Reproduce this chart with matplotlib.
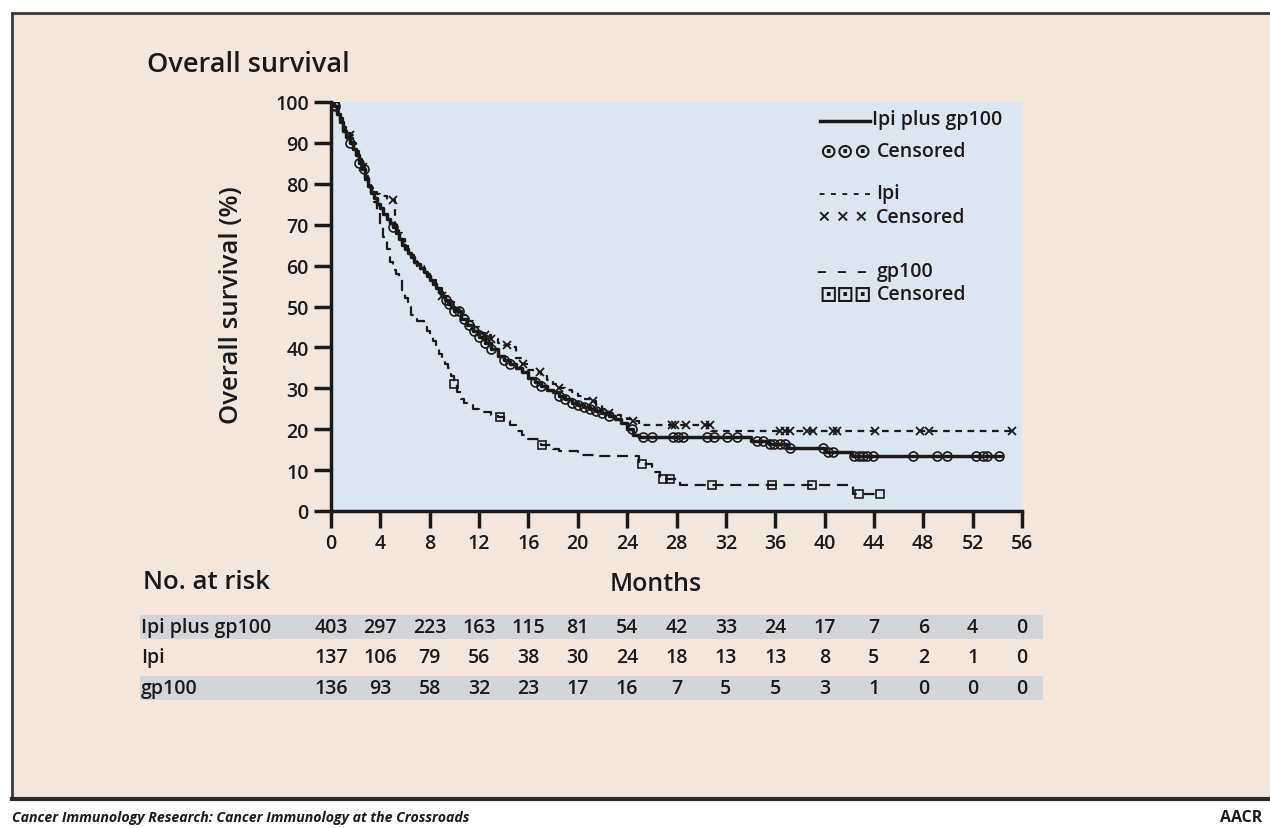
import numpy as np
import matplotlib
matplotlib.use('Agg')
import matplotlib.pyplot as plt
from matplotlib.patches import Rectangle
from matplotlib.transforms import blended_transform_factory

plt.rcParams['font.family'] = ['Open Sans', 'DejaVu Sans']
plt.rcParams['font.weight'] = 'semibold'

# --- Kaplan-Meier step points (months, % alive) ---
t_combo = [0, 0.25, 0.5, 0.75, 1, 1.25, 1.5, 1.75, 2, 2.25, 2.5, 2.75, 3, 3.25, 3.5,
           3.75, 4, 4.25, 4.5, 4.75, 5, 5.25, 5.5, 5.75, 6, 6.25, 6.5, 6.75, 7, 7.25,
           7.5, 7.75, 8, 8.25, 8.5, 8.75, 9, 9.25, 9.5, 9.75, 10, 10.5, 11, 11.5, 12,
           12.5, 13, 13.5, 14, 14.5, 15, 15.5, 16, 16.5, 17, 17.5, 18, 18.5, 19, 19.5,
           20, 20.5, 21, 21.5, 22, 22.5, 23, 23.5, 24, 24.5, 25, 34, 35.5, 37, 40, 42.2,
           54.3]
s_combo = [100, 99, 97, 95, 93, 91.5, 90, 88.5, 87, 85, 83.5, 81.5, 79.5, 78, 76.5, 75,
           74, 72.5, 71.5, 70.5, 69.5, 68, 66.5, 65, 64, 63, 62, 61, 60.5, 59.5, 58.5,
           57.5, 56.5, 55.5, 54.5, 53.5, 52.5, 51.5, 50.5, 49.8, 49, 47, 45.5, 44, 42.5,
           41, 39.5, 38, 37, 36, 35, 34, 32.5, 31.5, 30.5, 29.5, 29, 28, 27.3, 26.5, 26,
           25.5, 25, 24.5, 24, 23.3, 22.5, 21.5, 20, 18.5, 18, 17, 16.3, 15.3, 14.5, 13.4,
           13.4]

t_ipi = [0, 0.25, 0.5, 0.75, 1, 1.25, 1.5, 1.75, 2, 2.25, 2.5, 2.75, 3, 3.25, 3.5,
         3.75, 4, 4.5, 5.2, 5.35, 5.5, 5.75, 6, 6.25, 6.5, 6.75, 7, 7.5, 8, 8.5, 9,
         9.5, 10, 10.5, 11, 11.5, 12, 12.5, 13, 13.5, 14, 14.5, 15, 15.5, 16, 16.5, 17,
         17.5, 18, 18.5, 19, 19.5, 20, 20.5, 21, 21.5, 22, 22.5, 23, 23.5, 24, 24.5, 25,
         30.8, 55.3]
s_ipi = [100, 99, 97.5, 96, 94, 93, 92, 90, 88, 86, 84, 82, 80, 79, 78, 77.5, 77, 76,
         70, 69, 68, 66.5, 65, 63.7, 62.5, 61.2, 60, 58, 56.5, 54.5, 52.5, 51, 49.5, 48,
         46.5, 45, 43.5, 43, 42, 41, 40.5, 40, 37.5, 36, 34.5, 34, 33, 32, 31, 30, 29.5,
         29, 28, 27.5, 27, 26, 25, 24, 23.5, 23, 22.5, 22, 21, 19.5, 19.5]

t_gp = [0, 0.25, 0.5, 0.75, 1, 1.25, 1.5, 1.75, 2, 2.25, 2.5, 2.75, 3, 3.25, 3.5, 3.75,
        4, 4.25, 4.5, 4.75, 5, 5.25, 5.5, 5.75, 6, 6.25, 6.5, 6.75, 7, 7.5, 7.75, 8,
        8.25, 8.5, 8.75, 9, 9.25, 9.5, 9.75, 10, 10.25, 10.5, 10.75, 11, 11.5, 12, 13,
        13.5, 14, 14.5, 15, 15.5, 16, 17, 18, 18.5, 20, 21.5, 25, 26, 26.7, 28.3, 42.3,
        44.6]
s_gp = [100, 99, 97, 95, 93, 91.5, 90, 88.5, 87, 85, 83.5, 81, 79, 77.5, 75.5, 73, 70,
        67, 64, 61, 59, 58, 57, 54, 52, 50, 48, 47, 46.5, 45, 44, 43, 41.5, 40, 38.5,
        37.5, 36, 35, 33, 31, 29, 27.5, 26.5, 26, 25, 24.2, 23.5, 23, 22, 21, 19.5,
        18.5, 17.5, 16.2, 15.2, 14.7, 13.8, 13.4, 11.5, 9.5, 7.8, 6.4, 4.2, 4.2]

# censored observations (months)
c_combo = [0.3, 1.5, 2.3, 2.7, 5.0, 9.3, 9.6, 10.0, 10.4, 10.8, 11.2, 11.6, 12.0, 12.5,
           13.0, 14.0, 14.5, 16.5, 17.0, 18.5, 19.0, 19.5, 20.0, 20.5, 21.0, 21.5, 22.0,
           22.5, 24.4, 25.3, 26.0, 27.7, 28.1, 28.5, 30.5, 31.0, 32.1, 32.9, 34.5, 35.0,
           35.6, 35.9, 36.4, 36.8, 37.2, 39.9, 40.3, 40.7, 42.4, 42.8, 43.1, 43.4, 43.9,
           47.2, 49.1, 49.9, 52.3, 52.8, 53.2, 54.1]
c_ipi = [1.5, 2.6, 5.0, 9.0, 12.5, 13.0, 14.3, 15.6, 16.9, 18.5, 21.2, 22.5, 24.5, 27.6,
         27.9, 28.8, 30.3, 30.7, 36.4, 36.8, 37.2, 38.6, 39.1, 40.7, 41.0, 44.1, 47.7,
         48.5, 55.2]
c_gp = [0.3, 10.0, 13.7, 17.1, 25.2, 26.9, 27.5, 30.9, 35.7, 39.0, 42.8, 44.5]

ticks = list(range(0, 57, 4))
risk_rows = ['Ipi plus gp100', 'Ipi', 'gp100']
risk_combo = [403, 297, 223, 163, 115, 81, 54, 42, 33, 24, 17, 7, 6, 4, 0]
risk_ipi = [137, 106, 79, 56, 38, 30, 24, 18, 13, 13, 8, 5, 2, 1, 0]
risk_gp = [136, 93, 58, 32, 23, 17, 16, 7, 5, 5, 3, 1, 0, 0, 0]


def step_at(t, s, when):
    t = np.asarray(t)
    s = np.asarray(s)
    i = np.searchsorted(t, when, side='right') - 1
    return s[i]


W, H = 1270, 829
fig = plt.figure(figsize=(W / 100, H / 100), dpi=100, facecolor='white')


def fx(px):
    return px / W


def fy(py):
    return 1 - py / H


# beige panel and frame
fig.patches.append(Rectangle((fx(12), fy(800)), 1 - fx(12), fy(14) - fy(800),
                             transform=fig.transFigure, facecolor='#f3e6dc',
                             edgecolor='none', zorder=-2))
fig.add_artist(plt.Line2D([fx(12), 1], [fy(14), fy(14)], color='#3a3a3a', lw=2))
fig.add_artist(plt.Line2D([fx(12), fx(12)], [fy(14), fy(800)], color='#3a3a3a', lw=2))
fig.add_artist(plt.Line2D([fx(12), 1], [fy(800), fy(800)], color='#2a2a2a', lw=3))

ax = fig.add_axes((fx(331), fy(512), fx(1022) - fx(331), fy(103) - fy(512)),
                  facecolor='#dce6f1')
ax.set_zorder(1)
ax.set_xlim(0, 56)
ax.set_ylim(0, 100)

ink = '#1a1a1a'
ax.plot(t_combo, s_combo, drawstyle='steps-post', color=ink, lw=2.5)
ax.plot(t_ipi, s_ipi, drawstyle='steps-post', color=ink, lw=1.6, ls=(0, (3, 2.5)))
ax.plot(t_gp, s_gp, drawstyle='steps-post', color=ink, lw=1.6, ls=(0, (5, 3)))

ax.plot(c_combo, step_at(t_combo, s_combo, c_combo), 'o', ms=6.5, mfc='none',
        mec=ink, mew=1.2)
ax.plot(c_ipi, step_at(t_ipi, s_ipi, c_ipi), 'x', ms=6, mec=ink, mew=1.3)
ax.plot(c_gp, step_at(t_gp, s_gp, c_gp), 's', ms=5.5, mfc='none', mec=ink, mew=1.2)

for sp in ['top', 'right']:
    ax.spines[sp].set_visible(False)
for sp in ['left', 'bottom']:
    ax.spines[sp].set_linewidth(2.5)
    ax.spines[sp].set_color(ink)
ax.set_xticks(ticks)
ax.set_yticks(range(0, 101, 10))
ax.tick_params(axis='both', direction='out', length=12, width=2.5, color=ink,
               labelsize=14, labelcolor=ink, pad=4)
fig.text(fx(232), fy(305), 'Overall survival (%)', fontsize=18.5, color=ink,
         rotation=90, ha='center', va='center')
fig.text(fx(656), fy(585), 'Months', fontsize=18, color=ink, ha='center', va='center')

fig.text(fx(147), fy(65), 'Overall survival', fontsize=19.5, color=ink,
         va='center', ha='left')

# legend block
lg = 14
fig.add_artist(plt.Line2D([fx(820), fx(870)], [fy(122), fy(122)], color=ink, lw=2.5))
fig.text(fx(872), fy(120), 'Ipi plus gp100', fontsize=lg, color=ink, va='center')
fig.text(fx(819), fy(152), '\u2299\u2299\u2299', fontsize=15, color=ink, va='center',
         family='DejaVu Sans')
fig.text(fx(877), fy(152), 'Censored', fontsize=lg, color=ink, va='center')
fig.text(fx(819), fy(194), '- - - - -', fontsize=lg, color=ink, va='center')
fig.text(fx(876), fy(194), 'Ipi', fontsize=lg, color=ink, va='center')
fig.text(fx(818), fy(218), '\u00d7 \u00d7 \u00d7', fontsize=16, color=ink, va='center')
fig.text(fx(876), fy(218), 'Censored', fontsize=lg, color=ink, va='center')
fig.text(fx(817), fy(272), '\u2013  \u2013  \u2013', fontsize=lg, color=ink, va='center')
fig.text(fx(877), fy(272), 'gp100', fontsize=lg, color=ink, va='center')
fig.text(fx(819), fy(295), '\u22a1\u22a1\u22a1', fontsize=15, color=ink, va='center',
         family='DejaVu Sans')
fig.text(fx(877), fy(295), 'Censored', fontsize=lg, color=ink, va='center')

# number at risk table
fig.text(fx(143), fy(583), 'No. at risk', fontsize=18.5, color=ink, va='center')
tr = blended_transform_factory(ax.transData, fig.transFigure)
row_y = [628, 658, 689]
for k, (name, vals) in enumerate(zip(risk_rows, [risk_combo, risk_ipi, risk_gp])):
    if k != 1:
        fig.patches.append(Rectangle((fx(140), fy(row_y[k] + 12)), fx(1043) - fx(140),
                                     fy(row_y[k] - 12) - fy(row_y[k] + 12),
                                     transform=fig.transFigure, facecolor='#d3d5d8',
                                     edgecolor='none', zorder=-1))
    fig.text(fx(141), fy(row_y[k]), name, fontsize=14, color=ink, va='center')
    for m, v in zip(ticks, vals):
        ax.text(m, fy(row_y[k]), str(v), transform=tr, fontsize=14, color=ink,
                ha='center', va='center', clip_on=False)

fig.text(fx(12), fy(818), 'Cancer Immunology Research: Cancer Immunology at the Crossroads',
         fontsize=10.2, fontweight='bold', fontstyle='italic', color=ink, va='center')
fig.text(fx(1262), fy(818), 'AACR', fontsize=11.5, fontweight='bold', color=ink,
         va='center', ha='right')

fig.savefig('out.png', dpi=100, facecolor='white')
